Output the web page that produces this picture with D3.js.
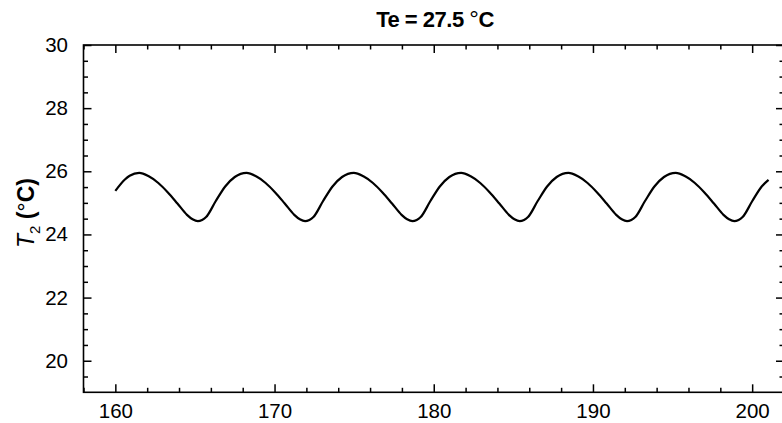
<!DOCTYPE html>
<html>
<head>
<meta charset="utf-8">
<script src="https://cdn.jsdelivr.net/npm/d3@7"></script>
<style>
  html, body { margin: 0; padding: 0; background: #fff; }
  svg { display: block; font-family: "Liberation Sans", Arial, sans-serif; }
</style>
</head>
<body>
<svg id="chart" width="782" height="423"></svg>
<script>
// Time axis samples and the corresponding T2 readings (°C)
const time = [
  160.00, 160.60, 160.90, 161.50,
  162.10, 162.70, 163.30, 163.90, 164.50, 164.85, 165.18, 165.45, 165.70, 166.30, 166.90, 167.50, 168.24,
  168.84, 169.44, 170.04, 170.64, 171.24, 171.59, 171.92, 172.19, 172.44, 173.04, 173.64, 174.24, 174.98,
  175.58, 176.18, 176.78, 177.38, 177.98, 178.33, 178.66, 178.93, 179.18, 179.78, 180.38, 180.98, 181.72,
  182.32, 182.92, 183.52, 184.12, 184.72, 185.07, 185.40, 185.67, 185.92, 186.52, 187.12, 187.72, 188.46,
  189.06, 189.66, 190.26, 190.86, 191.46, 191.81, 192.14, 192.41, 192.66, 193.26, 193.86, 194.46, 195.20,
  195.80, 196.40, 197.00, 197.60, 198.20, 198.55, 198.88, 199.15, 199.40, 200.00, 200.60, 201.03
];
const t2 = [
  25.38, 25.74, 25.86, 25.95,
  25.84, 25.63, 25.33, 24.98, 24.62, 24.48, 24.42, 24.46, 24.55, 25.05, 25.52, 25.82, 25.95,
  25.84, 25.63, 25.33, 24.98, 24.62, 24.48, 24.42, 24.46, 24.55, 25.05, 25.52, 25.82, 25.95,
  25.84, 25.63, 25.33, 24.98, 24.62, 24.48, 24.42, 24.46, 24.55, 25.05, 25.52, 25.82, 25.95,
  25.84, 25.63, 25.33, 24.98, 24.62, 24.48, 24.42, 24.46, 24.55, 25.05, 25.52, 25.82, 25.95,
  25.84, 25.63, 25.33, 24.98, 24.62, 24.48, 24.42, 24.46, 24.55, 25.05, 25.52, 25.82, 25.95,
  25.84, 25.63, 25.33, 24.98, 24.62, 24.48, 24.42, 24.46, 24.55, 25.05, 25.52, 25.73
];

const xMajorTicks = [160, 170, 180, 190, 200];
const xMinorTicks = [158, 162, 164, 166, 168, 172, 174, 176, 178, 182, 184, 186, 188, 192, 194, 196, 198, 202];
const yMajorTicks = [20, 22, 24, 26, 28, 30];
const yMinorTicks = [19.5, 20.5, 21, 21.5, 22.5, 23, 23.5, 24.5, 25, 25.5, 26.5, 27, 27.5, 28.5, 29, 29.5];

const titleTemp = "27.5";

const svg = d3.select("#chart");
const plotLeft = 83.5, plotRight = 784, plotTop = 45, plotBottom = 392.3;

const x = d3.scaleLinear().domain([158, 202]).range([plotLeft, plotRight]);
const y = d3.scaleLinear().domain([19, 30]).range([plotBottom, plotTop]);

const majorLen = 8, minorLen = 4.5;
const fontSize = 20.5;

// Frame
svg.append("rect")
  .attr("x", plotLeft).attr("y", plotTop)
  .attr("width", plotRight - plotLeft).attr("height", plotBottom - plotTop)
  .attr("fill", "none").attr("stroke", "#000").attr("stroke-width", 1.6);

// Axes with inward-pointing ticks on all four sides
function styleAxis(g) {
  g.select(".domain").remove();
  g.selectAll(".tick line").attr("stroke", "#000").attr("stroke-width", 1.5);
  g.selectAll("text")
    .attr("fill", "#000")
    .style("font-size", fontSize + "px")
    .style("font-family", "'Liberation Sans', Arial, sans-serif");
}

svg.append("g").attr("transform", `translate(0,${plotBottom})`)
  .call(d3.axisBottom(x).tickValues(xMajorTicks).tickSize(-majorLen).tickPadding(majorLen + 3).tickFormat(d3.format("d")))
  .call(styleAxis);
svg.append("g").attr("transform", `translate(0,${plotBottom})`)
  .call(d3.axisBottom(x).tickValues(xMinorTicks).tickSize(-minorLen).tickFormat(""))
  .call(styleAxis);
svg.append("g").attr("transform", `translate(0,${plotTop})`)
  .call(d3.axisTop(x).tickValues(xMajorTicks).tickSize(-majorLen).tickFormat(""))
  .call(styleAxis);
svg.append("g").attr("transform", `translate(0,${plotTop})`)
  .call(d3.axisTop(x).tickValues(xMinorTicks).tickSize(-minorLen).tickFormat(""))
  .call(styleAxis);

svg.append("g").attr("transform", `translate(${plotLeft},0)`)
  .call(d3.axisLeft(y).tickValues(yMajorTicks).tickSize(-majorLen).tickPadding(majorLen + 7.5).tickFormat(d3.format("d")))
  .call(styleAxis);
svg.append("g").attr("transform", `translate(${plotLeft},0)`)
  .call(d3.axisLeft(y).tickValues(yMinorTicks).tickSize(-minorLen).tickFormat(""))
  .call(styleAxis);
svg.append("g").attr("transform", `translate(${plotRight},0)`)
  .call(d3.axisRight(y).tickValues(yMajorTicks).tickSize(-majorLen).tickFormat(""))
  .call(styleAxis);
svg.append("g").attr("transform", `translate(${plotRight},0)`)
  .call(d3.axisRight(y).tickValues(yMinorTicks).tickSize(-minorLen).tickFormat(""))
  .call(styleAxis);

// T2 curve
const points = time.map((t, i) => [t, t2[i]]);
svg.append("path")
  .datum(points)
  .attr("fill", "none")
  .attr("stroke", "#000")
  .attr("stroke-width", 2.2)
  .attr("stroke-linejoin", "round")
  .attr("d", d3.line().x(d => x(d[0])).y(d => y(d[1])).curve(d3.curveMonotoneX));

// Title
const title = svg.append("text")
  .attr("x", 435).attr("y", 26.5)
  .attr("text-anchor", "middle")
  .style("font-size", "22px")
  .style("font-weight", "bold")
  .style("letter-spacing", "-0.5px")
  .attr("fill", "#000");
title.append("tspan").text(`Te = ${titleTemp} `);
title.append("tspan").style("font-weight", "normal").style("font-size", "24px").text("°");
title.append("tspan").text("C");

// Y axis label
const ylab = svg.append("text")
  .attr("transform", "translate(34,213) rotate(-90)")
  .attr("text-anchor", "middle")
  .style("font-size", "23px")
  .attr("fill", "#000");
ylab.append("tspan").style("font-style", "italic").text("T");
ylab.append("tspan").attr("dy", 6).style("font-size", "15px").text("2");
ylab.append("tspan").attr("dy", -6).style("font-weight", "bold").text(" (");
ylab.append("tspan").text("°");
ylab.append("tspan").style("font-weight", "bold").text("C)");
</script>
</body>
</html>
